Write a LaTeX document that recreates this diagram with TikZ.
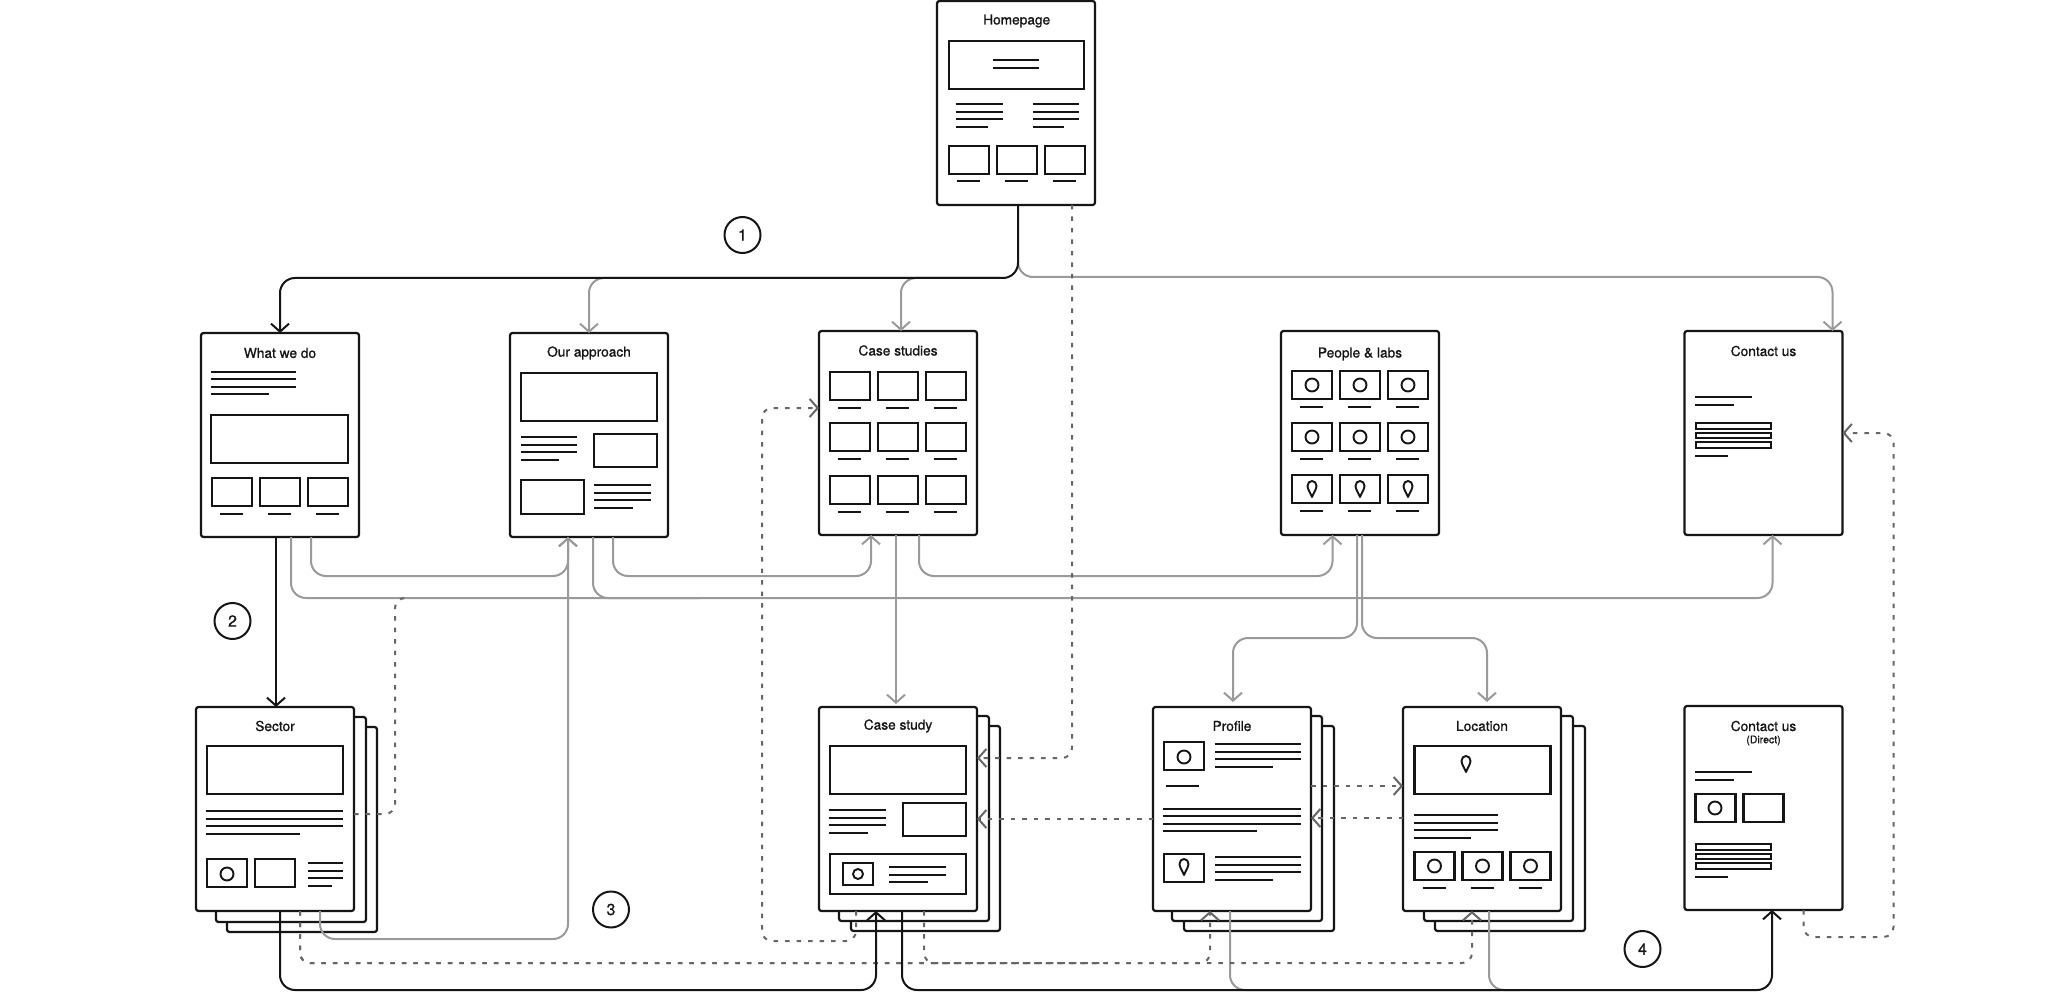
\documentclass[tikz,border=0pt]{standalone}
\usepackage{fontspec}
\setmainfont{TeX Gyre Heros}
\newfontfamily\ttlfont[FakeBold=0.9]{TeX Gyre Heros}
\usepackage{tikz}
\usetikzlibrary{arrows.meta,calc}

\definecolor{inkcol}{HTML}{151515}
\definecolor{sidecol}{HTML}{9A9A9A}
\definecolor{dashcol}{HTML}{666666}
\tikzset{
  sheet/.style={draw=inkcol, fill=white, line width=2.2pt, rounded corners=2.5pt, inner sep=0pt, outer sep=0pt, minimum width=158pt, minimum height=204pt},
  backsheet/.style={draw=inkcol, fill=white, line width=2.2pt, rounded corners=2.5pt},
  ttl/.style={inner sep=0pt, text=inkcol, font=\ttlfont\fontsize{13.7}{16}\selectfont},
  block/.style={draw=inkcol, line width=2.1pt},
  txtrule/.style={draw=inkcol, line width=2pt},
  mainlink/.style={draw=inkcol, line width=2pt, rounded corners=15pt},
  sidelink/.style={draw=sidecol, line width=2pt, rounded corners=15pt},
  dashlink/.style={draw=dashcol, line width=2pt, rounded corners=10pt, dash pattern=on 4.5pt off 7pt},
  head/.style={-{Straight Barb[length=8pt,width=18pt,line width=2pt]}},
  stepnum/.style={circle, draw=inkcol, fill=white, line width=2pt, minimum size=36pt, inner sep=0pt, text=inkcol, font=\ttlfont\fontsize{16}{18}\selectfont}
}

% x1, x2, first y, x of the short line
\newcommand{\fourlines}[4]{
  \foreach \n in {0,1,2}
    \draw[txtrule] (#1,#3+7.5*\n) -- (#2,#3+7.5*\n);
  \draw[txtrule] (#1,#3+22.5) -- (#4,#3+22.5);
}
\newcommand{\thumb}[2]{\draw[block] (#1,#2) rectangle ++(40,28);}
\newcommand{\ringmark}[2]{\draw[block, line width=1.9pt] (#1,#2) circle (6.5);}
\newcommand{\pinmark}[2]{
  \draw[block, line width=1.9pt, line join=round] (#1,#2+8) .. controls (#1-1.5,#2+4) and (#1-4.5,#2+0) .. (#1-4.5,#2-3)
    .. controls (#1-4.5,#2-6) and (#1-2.5,#2-8) .. (#1,#2-8) .. controls (#1+2.5,#2-8) and (#1+4.5,#2-6) .. (#1+4.5,#2-3)
    .. controls (#1+4.5,#2+0) and (#1+1.5,#2+4) .. (#1,#2+8) -- cycle;
}
% row of three thumbs with captions
\newcommand{\thumbrow}[2]{
  \foreach \n in {0,1,2} {
    \thumb{#1+48*\n}{#2}
    \draw[txtrule] (#1+8+48*\n,#2+35.5) -- (#1+31+48*\n,#2+35.5);
  }
}
\newcommand{\formbars}[3]{
  \draw[txtrule] (#1,#2) -- (#1+57,#2);
  \draw[txtrule] (#1,#2+7.5) -- (#1+39,#2+7.5);
  \foreach \n in {0,1,2}
    \draw[txtrule] (#1+1,#3+9.7*\n) rectangle ++(75,5.5);
  \draw[txtrule] (#1,#3+32.5) -- (#1+33,#3+32.5);
}

\begin{document}
\begin{tikzpicture}[x=1pt, y=-1pt]
  \useasboundingbox (0,0) rectangle (2046,992);
  \fill[white] (0,0) rectangle (2046,992);

  % stacks behind the sheets
  \foreach \lft/\rgt/\tp/\bt in {227/377/727/932, 216/366/717/922, 851/1000/726/931, 839/989/716/921,
      1184/1334/726/931, 1172/1322/716/921, 1435/1585/726/931, 1424/1573/716/921}
    \draw[backsheet] (\lft,\tp) rectangle (\rgt,\bt);

  % sheets
  \node[sheet] (home) at (1016,103) {};
  \node[sheet] (whatwedo) at (280,435) {};
  \node[sheet] (approach) at (589,435) {};
  \node[sheet] (cases) at (898,433) {};
  \node[sheet] (people) at (1360,433) {};
  \node[sheet] (contact) at (1763.5,433) {};
  \node[sheet] (sector) at (275,809) {};
  \node[sheet] (casestudy) at (898,809) {};
  \node[sheet] (profile) at (1232,809) {};
  \node[sheet] (location) at (1482,809) {};
  \node[sheet] (direct) at (1763.5,808) {};

  % free ends of the links
  \coordinate (trunk) at (1018,262);
  \coordinate (busleft) at (1000,278);
  \coordinate (buslow) at (700,598);
  \coordinate (dashend) at (410,598);
  \coordinate (dashcross) at (1100,963);
  \coordinate (busprofile) at (1500,990);
  \coordinate (buslocation) at (1520,990);

  % solid grey links
  \draw[sidelink, head] (busleft) -| (approach.north);
  \draw[sidelink, head] (busleft) -| ([xshift=3pt]cases.north);
  \draw[sidelink, head] (trunk) -- (1018,277) -| ([xshift=69pt]contact.north);
  \draw[sidelink, head] ([xshift=31pt]whatwedo.south) -- ++(0,39) -| ([xshift=-21pt]approach.south);
  \draw[sidelink] ([xshift=11pt]whatwedo.south) -- ++(0,61) -- (buslow);
  \draw[sidelink] ([xshift=4pt]approach.south) -- ++(0,61) -- (buslow);
  \draw[sidelink, head] (buslow) -| ([xshift=9pt]contact.south);
  \draw[sidelink, head] ([xshift=24pt]approach.south) -- ++(0,39) -| ([xshift=-27pt]cases.south);
  \draw[sidelink, head] ([xshift=21pt]cases.south) -- ++(0,41) -| ([xshift=-27.5pt]people.south);
  \draw[sidelink, head, shorten >=3pt] ([xshift=-2pt]cases.south) -- ([xshift=-2pt]casestudy.north);
  \draw[sidelink, head, shorten >=5pt] ([xshift=-3pt]people.south) -- ++(0,103) -| ([xshift=1pt]profile.north);
  \draw[sidelink, head, shorten >=5pt] ([xshift=2pt]people.south) -- ++(0,103) -| ([xshift=5pt]location.north);
  \draw[sidelink, head] ([xshift=45pt]sector.south) -- ++(0,28) -| ([xshift=-21pt]approach.south);
  \draw[sidelink] ([xshift=-2pt]profile.south) -- ++(0,79) -- (busprofile);
  \draw[sidelink] ([xshift=7pt]location.south) -- ++(0,79) -- (buslocation);

  % dashed links
  \draw[dashlink] ([yshift=-5pt]sector.east) -- (395,814) -- (395,598) -- (dashend);
  \draw[dashlink, head] ([xshift=25pt]sector.south) -- ++(0,52) -| ([xshift=-22pt]profile.south);
  \draw[dashlink, head] ([xshift=25pt]sector.south) -- ++(0,52) -| ([xshift=-10pt]location.south);
  \draw[dashlink] ([xshift=26pt]casestudy.south) -- ++(0,52) -- (dashcross);
  \draw[dashlink, head] ([xshift=-42pt]casestudy.south) |- (762,941) |- ([yshift=25pt]cases.west);
  \draw[dashlink, head] ([xshift=56pt]home.south) |- ([yshift=51pt]casestudy.east);
  \draw[dashlink, head] ([yshift=-10pt]profile.west) -- ([yshift=-10pt]casestudy.east);
  \draw[dashlink, head] ([yshift=23pt]profile.east) -- ([yshift=23pt]location.west);
  \draw[dashlink, head] ([yshift=-9pt]location.west) -- ([yshift=-9pt]profile.east);
  \draw[dashlink, head] ([xshift=40pt]direct.south) |- (1893.5,937) |- (contact.east);

  % black links
  \draw[mainlink, head] ([xshift=2pt]home.south) -- (1018,278) -| (whatwedo.north);
  \draw[mainlink, head] ([xshift=-4pt]whatwedo.south) -- ([xshift=1pt]sector.north);
  \draw[mainlink, head] ([xshift=5pt]sector.south) |- (800,990) -| ([xshift=-22pt]casestudy.south);
  \draw[mainlink, head] ([xshift=4pt]casestudy.south) |- (1500,990) -| ([xshift=8.5pt]direct.south);

  % step marks
  \node[stepnum] (stepone) at (742.5,235) {1};
  \node[stepnum] (steptwo) at (232.5,621) {2};
  \node[stepnum] (stepthree) at (611,909.5) {3};
  \node[stepnum] (stepfour) at (1642.5,949) {4};

  % titles
  \node[ttl] (hometxt) at (1016.7,21) {Homepage};
  \node[ttl] (wwdtxt) at (280,353) {What we do};
  \node[ttl] (apptxt) at (589,353) {Our approach};
  \node[ttl] (casestxt) at (898,350.5) {Case studies};
  \node[ttl] (peopletxt) at (1360,354) {People \& labs};
  \node[ttl] (contacttxt) at (1763.5,351) {Contact us};
  \node[ttl] (sectortxt) at (275,726) {Sector};
  \node[ttl] (studytxt) at (898,726) {Case study};
  \node[ttl] (profiletxt) at (1232,726) {Profile};
  \node[ttl] (locationtxt) at (1482,726) {Location};
  \node[ttl] (directtxt) at (1763.5,726) {Contact us};
  \node[ttl, font=\ttlfont\fontsize{10.5}{12}\selectfont] (directsub) at (1763.5,740.5) {(Direct)};

  % homepage content
  \draw[block] (949,41) rectangle (1084,89);
  \draw[txtrule] (993,60) -- (1039,60);
  \draw[txtrule] (993,68) -- (1039,68);
  \fourlines{956}{1003}{104.5}{988}
  \fourlines{1033}{1079}{104.5}{1064}
  \thumbrow{949}{146}

  % what we do content
  \fourlines{211}{296}{371.5}{269}
  \draw[block] (211,415) rectangle (348,463);
  \thumbrow{212}{478}

  % our approach content
  \draw[block] (521,373) rectangle (657,421);
  \draw[block] (594,434) rectangle (657,467);
  \fourlines{521}{577}{437}{559}
  \draw[block] (521,480) rectangle (584,514);
  \fourlines{594}{651}{485}{633}

  % case studies content
  \foreach \row in {372,423,476} {
    \thumbrow{830}{\row}
  }

  % people content
  \foreach \row in {371,423,475} {
    \thumbrow{1292}{\row}
  }
  \foreach \cx in {1312,1360,1408} {
    \ringmark{\cx}{385}
    \ringmark{\cx}{437}
    \pinmark{\cx}{489}
  }

  % contact content
  \formbars{1695}{397}{423}
  \formbars{1695}{772}{844}
  \thumb{1695.5}{794}
  \thumb{1743.5}{794}
  \ringmark{1715}{808}

  % sector content
  \draw[block] (207,746) rectangle (343,794);
  \fourlines{206}{343}{811}{300}
  \thumb{207}{859}
  \thumb{255}{859}
  \ringmark{227}{874}
  \fourlines{308}{343}{863}{332}

  % case study content
  \draw[block] (830,746) rectangle (966,794);
  \fourlines{829}{886}{810}{868}
  \draw[block] (903,803) rectangle (966,836);
  \draw[block] (830,854) rectangle (966,894);
  \draw[block] (843,863) rectangle (873,885);
  \draw[block, line width=1.9pt] (858,874) circle (5);
  \foreach \yy in {867,874.5}
    \draw[txtrule] (889,\yy) -- (946,\yy);
  \draw[txtrule] (889,882) -- (928,882);

  % profile content
  \thumb{1164}{742}
  \ringmark{1184}{757}
  \fourlines{1215}{1300.5}{744}{1273}
  \draw[txtrule] (1166,786) -- (1199,786);
  \fourlines{1163}{1300.5}{808.5}{1257}
  \thumb{1164}{854}
  \pinmark{1184}{867}
  \fourlines{1215}{1300.5}{857}{1273}

  % location content
  \draw[block] (1414.5,746) rectangle (1550.5,794);
  \pinmark{1466}{764}
  \fourlines{1414}{1498}{815}{1471}
  \thumbrow{1414.5}{852}
  \foreach \cx in {1434.5,1482.5,1530.5} {
    \ringmark{\cx}{866}
  }
\end{tikzpicture}
\end{document}
